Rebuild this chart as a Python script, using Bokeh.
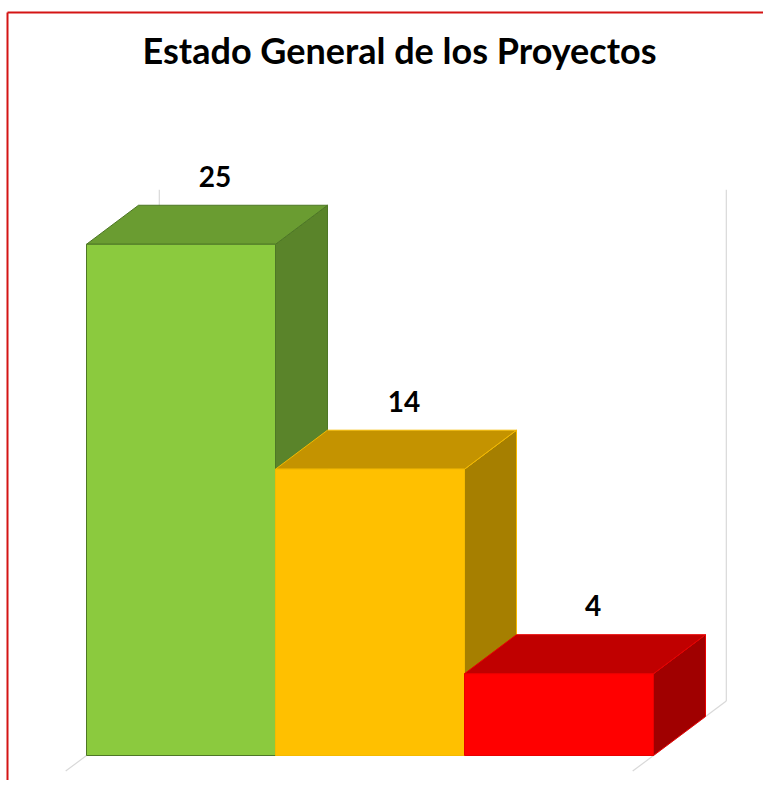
from bokeh.plotting import figure
from bokeh.models import Range1d, Label
from bokeh.core.properties import value
from bokeh.embed import file_html
from bokeh.resources import INLINE

# ---- data ----
categories = ["Verde", "Amarillo", "Rojo"]
counts = [25, 14, 4]
label_texts = ["25", "14", "4"]
front_colors = ["#8BCA3E", "#FFC000", "#FF0000"]
top_colors = ["#6A9C31", "#C49300", "#C00000"]
side_colors = ["#5A842A", "#A67F00", "#A00000"]
edge_colors = ["#4E7726", "#F5BA00", "#E80000"]
title_text = "Estado General de los Proyectos"
axis_max = 25

# ---- geometry (style) ----
W, H = 763, 780
PX_CAT, PX_VAL = 189.0, 20.45
LEFT_PX, BASE_PX = 86.0, H - 755.0
x_start = -LEFT_PX / PX_CAT
y_start = -BASE_PX / PX_VAL
DX = 52.0 / PX_CAT
DY = 39.0 / PX_VAL
WALL_D = 1.4
FRONT_D = -0.4

p = figure(width=W, height=H, output_backend="svg", toolbar_location=None,
           x_range=Range1d(x_start, x_start + W / PX_CAT),
           y_range=Range1d(y_start, y_start + H / PX_VAL),
           min_border=0, min_border_left=0, min_border_right=0,
           min_border_top=0, min_border_bottom=0)
p.xaxis.visible = False
p.yaxis.visible = False
p.grid.visible = False
p.outline_line_color = None
p.background_fill_color = "white"
p.border_fill_color = "white"

n = len(counts)
wall_color = "#D9D9D9"
for xb in [0, n]:
    p.line([xb + WALL_D * DX, xb + WALL_D * DX],
           [WALL_D * DY, axis_max + WALL_D * DY], line_color=wall_color, line_width=1.2)
    p.line([xb + WALL_D * DX, xb + FRONT_D * DX],
           [WALL_D * DY, FRONT_D * DY], line_color=wall_color, line_width=1.2)

for i, v in enumerate(counts):
    x0, x1 = i, i + 1
    side_x = [x1, x1 + DX, x1 + DX, x1]
    side_y = [0, DY, v + DY, v]
    top_x = [x0, x1, x1 + DX, x0 + DX]
    top_y = [v, v, v + DY, v + DY]
    front_x = [x0, x1, x1, x0]
    front_y = [0, 0, v, v]
    p.patch(side_x, side_y, fill_color=side_colors[i], line_color=edge_colors[i], line_width=1)
    p.patch(top_x, top_y, fill_color=top_colors[i], line_color=edge_colors[i], line_width=1)
    p.patch(front_x, front_y, fill_color=front_colors[i], line_color=edge_colors[i], line_width=1)

lab_x = [i + 0.5 + 0.18 for i in range(n)]
lab_y = [v + DY for v in counts]
p.text(lab_x, lab_y, text=label_texts, text_align="center", text_baseline="alphabetic",
       y_offset=-29, text_font=value("Lato"), text_font_style="bold",
       text_font_size="28px", text_color="black")

title = Label(x=399, y=H - 49, x_units="screen", y_units="screen", text=title_text,
              text_align="center", text_baseline="alphabetic", text_font="Lato",
              text_font_style="bold", text_font_size="36px", text_color="black")
p.add_layout(title)

y_top = p.y_range.end - 12.0 / PX_VAL
x_left = x_start + 7.0 / PX_CAT
p.line([x_left, p.x_range.end], [y_top, y_top], line_color="#D41414", line_width=2)
p.line([x_left, x_left], [y_top, p.y_range.start], line_color="#D41414", line_width=2)

open("out.html", "w").write(file_html(p, INLINE))
